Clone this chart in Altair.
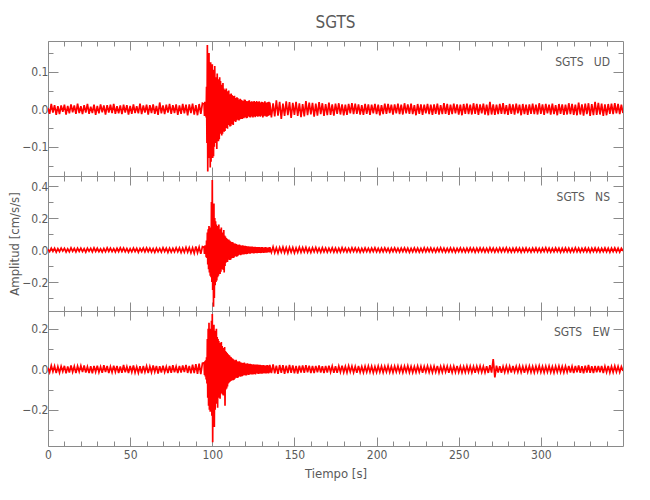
import altair as alt
import pandas as pd

# ---- sample times (s): 1 s sampling outside the event, 0.25 s around it
TIME_PRE = list(range(0, 95))
TIME_EVT = [95 + i * 0.25 for i in range(160)]
TIME_POST = list(range(135, 351))
TIME = TIME_PRE + TIME_EVT + TIME_POST

# ---- amplitudes, in 1e-3 cm/s/s
UD_PRE = [3,-12,14,-9,11,-15,8,-13,10,-7,12,-14,9,-11,13,-8,10,-12,15,-10,
          8,-13,11,-9,14,-12,7,-10,12,-15,9,-11,13,-8,10,-14,11,-9,12,-10,
          14,-12,8,-11,10,-13,12,-9,11,-14,9,-12,13,-10,8,-11,15,-13,10,-9,
          12,-14,11,-10,13,-12,9,-15,18,-11,10,-13,12,-9,14,-12,11,-10,13,-15,
          10,-12,14,-11,12,-16,13,-10,15,-14,11,-16,14,-12,16]
UD_EVT = [14,-18,20,-15,17,-22,60,-90,
          171,-166,140,-120, 150,-130,110,-155, 125,-140,100,-110, 120,-130,105,-125,
          90,-100,115,-80, 85,-90,70,-106, 95,-75,80,-85, 70,-80,85,-65,
          75,-60,65,-70, 60,-65,70,-55, 55,-60,50,-58, 52,-45,55,-50,
          45,-52,48,-40, 50,-42,38,-46, 40,-45,42,-36, 38,-40,35,-42,
          34,-30,36,-32, 30,-34,28,-30, 32,-26,30,-28, 26,-30,24,-27,
          28,-22,25,-26, 24,-26,22,-20, 22,-24,26,-21, 25,-20,22,-24,
          20,-23,21,-19, 22,-18,24,-21, 19,-22,20,-18, 21,-19,18,-22,
          20,-17,22,-19, 18,-21,19,-16, 22,-18,17,-20, 19,-16,21,-18,
          17,-20,18,-15, 20,-17,19,-22, 16,-19,18,-17, 21,-16,17,-19,
          18,-20,16,-18, 19,-17,20,-16]
UD_POST = [18,-22,16,-19,24,-17,20,-26,15,-18,21,-16,19,-23,17,-15,20,-18,16,-21,
           14,-19,22,-16,18,-14,17,-20,15,-17,19,-13,16,-18,14,-16,18,-15,13,-17,
           15,-12,16,-14,13,-16,12,-15,14,-11,16,-13,15,-12,13,-14,11,-15,14,-12,
           13,-15,12,-11,14,-13,12,-16,11,-13,15,-12,14,-10,12,-14,13,-11,15,-13,
           12,-14,16,-11,13,-12,15,-13,11,-16,14,-12,13,-15,12,-11,14,-13,12,-15,
           13,-12,15,-14,11,-13,16,-12,14,-15,12,-13,15,-11,13,-14,12,-16,14,-12,
           15,-13,12,-14,16,-12,14,-15,13,-11,15,-14,12,-16,20,-14,13,-15,12,-13,
           14,-12,16,-13,11,-15,14,-12,13,-14,15,-11,12,-16,14,-13,12,-15,13,-12,
           15,-13,12,-14,16,-12,13,-15,14,-11,12,-14,15,-13,11,-16,14,-12,13,-15,
           12,-14,16,-13,14,-15,12,-16,18,-14,13,-17,15,-13,16,-18,14,-16,20,-15,
           17,-14,15,-18,13,-16,14,-12,15,-13,16,-11,14,-13,12,-10]

NS_PRE = [5,-10,12,-8,11,-13,9,-10,12,-7,10,-12,8,-11,13,-9,10,-12,11,-8,
          12,-10,9,-13,11,-8,10,-12,13,-9,11,-10,8,-12,10,-11,13,-9,12,-10,
          9,-12,11,-10,14,-9,12,-11,10,-13,9,-11,12,-10,11,-14,10,-9,12,-11,
          13,-10,11,-12,9,-14,12,-11,10,-13,14,-10,12,-15,11,-13,10,-12,14,-11,
          13,-16,12,-14,17,-13,15,-18,14,-20,22,-17,19,-24,21]
NS_EVT = [18,-25,28,-22,30,-45,60,-50,
          110,-90,130,-120, 150,-140,120,-160, 140,-170,300,-200, 437,-250,260,-354,
          290,-300,200,-220, 180,-200,160,-190, 150,-170,140,-160, 160,-140,130,-150,
          120,-135,140,-110, 110,-120,100,-125, 125,-140,90,-100, 85,-80,75,-70,
          70,-75,65,-60, 65,-55,60,-62, 55,-60,50,-52, 50,-45,48,-50,
          42,-46,40,-38, 40,-36,38,-42, 35,-38,32,-34, 32,-30,34,-28,
          30,-32,27,-29, 28,-25,30,-27, 26,-28,24,-25, 27,-23,25,-26,
          22,-25,24,-21, 24,-20,22,-23, 21,-23,20,-19, 22,-19,21,-20,
          19,-21,18,-20, 20,-18,19,-17, 18,-20,17,-19, 19,-16,18,-18,
          17,-19,16,-18, 18,-16,19,-15, 16,-18,15,-17, 17,-15,18,-16,
          15,-17,16,-14, 16,-14,17,-15]
NS_POST = [18,-15,20,-17,14,-19,16,-13,18,-16,15,-19,17,-14,16,-18,13,-15,17,-14,
           15,-13,16,-14,12,-15,14,-12,16,-13,11,-14,15,-12,13,-14,12,-11,14,-13,
           12,-14,11,-13,15,-10,12,-13,11,-12,14,-10,13,-11,12,-14,10,-12,13,-11,
           11,-13,12,-10,14,-12,10,-13,12,-11,13,-10,11,-14,12,-10,13,-12,11,-13,
           12,-10,13,-12,11,-14,10,-12,13,-11,12,-13,10,-12,14,-11,12,-10,13,-12,
           11,-13,12,-10,14,-11,12,-13,10,-12,13,-11,12,-14,11,-10,13,-12,11,-13,
           12,-11,13,-10,12,-14,11,-12,13,-10,12,-13,11,-12,14,-10,12,-13,11,-12,
           13,-11,12,-10,14,-12,11,-13,12,-11,13,-10,12,-14,11,-12,13,-11,10,-13,
           12,-10,13,-12,11,-13,12,-10,14,-11,12,-13,11,-12,13,-10,12,-14,11,-12,
           13,-11,12,-13,10,-12,14,-11,12,-13,11,-10,13,-12,11,-14,12,-10,13,-11,
           12,-13,11,-10,13,-12,11,-14,12,-10,13,-11,12,-13,11,-6]

EW_PRE = [8,-15,18,-12,16,-19,13,-17,15,-11,17,-20,14,-16,19,-13,15,-18,16,-12,
          17,-14,19,-16,13,-18,15,-20,16,-13,18,-15,12,-17,20,-14,16,-19,13,-15,
          18,-13,16,-19,14,-17,21,-15,13,-18,16,-14,19,-16,12,-18,15,-20,17,-13,
          16,-18,14,-15,19,-13,17,-21,15,-16,18,-14,13,-19,16,-17,20,-15,14,-18,
          17,-16,19,-14,21,-18,16,-20,23,-19,25,-22,28,-24,30]
EW_EVT = [32,-28,40,-35,45,-50,60,-70,
          150,-140,200,-180, 230,-200,180,-210, 200,-190,240,-230, 273,-360,210,-250,
          220,-285,190,-200, 180,-170,200,-160, 160,-190,150,-140, 140,-130,120,-145,
          130,-120,135,-110, 115,-125,100,-130, 105,-95,110,-180, 90,-100,85,-95,
          80,-85,75,-70, 70,-65,68,-62, 62,-58,60,-55, 55,-50,52,-54,
          48,-52,45,-47, 45,-42,47,-40, 40,-43,38,-41, 38,-35,40,-36,
          35,-37,33,-34, 32,-34,30,-31, 31,-29,33,-28, 29,-31,27,-30,
          28,-26,30,-27, 26,-28,25,-24, 27,-24,26,-25, 24,-26,23,-25,
          25,-22,24,-23, 23,-25,22,-21, 24,-21,23,-22, 21,-23,22,-20,
          22,-20,21,-22, 20,-22,19,-21, 21,-19,20,-18, 19,-21,18,-20,
          20,-18,21,-19, 18,-20,19,-17]
EW_POST = [22,-19,24,-20,18,-23,21,-17,20,-22,18,-19,21,-17,19,-20,17,-21,18,-16,
           19,-17,20,-15,18,-19,16,-18,17,-15,19,-16,15,-18,17,-16,18,-14,16,-17,
           15,-17,16,-14,18,-15,14,-16,17,-13,15,-16,14,-17,16,-15,13,-16,15,-14,
           16,-14,15,-17,13,-15,16,-14,15,-16,14,-13,17,-15,14,-16,15,-13,16,-14,
           14,-16,15,-13,17,-15,14,-16,13,-15,16,-14,15,-17,14,-13,16,-15,14,-16,
           15,-14,17,-16,14,-15,16,-13,15,-17,14,-16,15,-14,17,-15,14,-16,13,-15,
           16,-14,15,-16,14,-17,15,-13,16,-15,14,-16,15,-18,20,-16,50,-40,18,-16,
           15,-17,14,-15,16,-14,15,-16,17,-13,15,-14,16,-15,14,-17,15,-14,16,-15,
           14,-16,15,-13,17,-15,14,-16,15,-14,16,-15,13,-17,15,-14,16,-15,14,-16,
           15,-14,17,-16,14,-18,16,-15,19,-17,15,-20,18,-16,21,-17,15,-18,16,-15,
           17,-15,16,-18,15,-14,17,-16,14,-15,16,-13,15,-14,13,-8]

COMPONENTS = ["UD", "NS", "EW"]
STATION = "SGTS"
Y_DOMAINS = [[-0.178, 0.182], [-0.381, 0.4625], [-0.379, 0.288]]
Y_MAJOR = [[-0.1, 0.0, 0.1], [-0.2, 0.0, 0.2, 0.4], [-0.2, 0.0, 0.2]]
Y_MINOR = [[-0.15, -0.05, 0.05, 0.15], [-0.3, -0.1, 0.1, 0.3], [-0.3, -0.1, 0.1]]
X_DOMAIN = [0, 350]
X_MAJOR = [0, 50, 100, 150, 200, 250, 300]
X_MINOR = [v for v in range(10, 350, 10) if v % 50]

SERIES = [(UD_PRE, UD_EVT, UD_POST), (NS_PRE, NS_EVT, NS_POST), (EW_PRE, EW_EVT, EW_POST)]

FONT = "Liberation Sans Narrow, DejaVu Sans Condensed, Liberation Sans, sans-serif"
GRAY = "#8a8a8a"
TXT = "#5a5a5a"
W, H = 575, 135


def frame(pre, evt, post):
    vals = pre + evt + post
    assert len(vals) == len(TIME), (len(vals), len(TIME))
    return pd.DataFrame({"t": TIME, "a": [v / 1000 for v in vals]})


def axis(orient, values, size, labels=False, title=None, fmt=None):
    is_x = orient in ("top", "bottom")
    kw = dict(orient=orient, values=values, tickSize=size, offset=-size,
              domain=False, grid=False, labels=labels, title=title,
              tickColor=GRAY, tickWidth=1, labelFlush=False, labelOverlap=False,
              labelFont=FONT, labelFontSize=12, labelColor=TXT,
              labelPadding=3 if is_x else 0,
              titleFont=FONT, titleFontSize=13, titleColor=TXT,
              titleFontWeight="normal", titlePadding=7 if is_x else 0)
    if fmt:
        kw["format"] = fmt
    return alt.Axis(**kw)


def panel(i):
    df = frame(*SERIES[i])
    xs = alt.Scale(domain=X_DOMAIN, nice=False, zero=False)
    ys = alt.Scale(domain=Y_DOMAINS[i], nice=False, zero=False)
    bottom = i == 2
    xt = "Tiempo [s]" if bottom else None
    yt = "Amplitud [cm/s/s]" if i == 1 else None

    trace = alt.Chart(df).mark_line(color="#ff0000", strokeWidth=1.7, clip=True).encode(
        x=alt.X("t:Q", scale=xs, axis=axis("bottom", X_MAJOR, 9, labels=bottom, title=xt)),
        y=alt.Y("a:Q", scale=ys, axis=axis("left", Y_MAJOR[i], 10, labels=True, title=yt, fmt=".1f")),
    )
    small = df.iloc[:2]
    l2 = alt.Chart(small).mark_point(opacity=0).encode(
        x=alt.X("t:Q", scale=xs, axis=axis("bottom", X_MINOR, 5)),
        y=alt.Y("a:Q", scale=ys, axis=axis("left", Y_MINOR[i], 5)),
    )
    l3 = alt.Chart(small).mark_point(opacity=0).encode(
        x=alt.X("t:Q", scale=xs, axis=axis("top", X_MAJOR, 9)),
        y=alt.Y("a:Q", scale=ys, axis=axis("right", Y_MAJOR[i], 10)),
    )
    l4 = alt.Chart(small).mark_point(opacity=0).encode(
        x=alt.X("t:Q", scale=xs, axis=axis("top", X_MINOR, 5)),
        y=alt.Y("a:Q", scale=ys, axis=axis("right", Y_MINOR[i], 5)),
    )
    lab = alt.Chart(pd.DataFrame({"lbl": [STATION + "\u00a0\u00a0\u00a0" + COMPONENTS[i]]})).mark_text(
        align="right", baseline="middle", font=FONT, fontSize=12, color=TXT
    ).encode(x=alt.value(562), y=alt.value(21), text="lbl:N")

    layer = alt.layer(trace, l2, l3, l4, lab).resolve_scale(x="independent", y="independent")
    props = dict(width=W, height=H)
    if i == 0:
        props["title"] = alt.TitleParams(STATION, anchor="middle", frame="group", fontSize=17,
                                         fontWeight="normal", color=TXT, font=FONT, offset=9)
    return layer.properties(**props)


chart = alt.vconcat(panel(0), panel(1), panel(2), spacing=0, bounds="flush").properties(
    padding={"left": 0, "top": 5, "right": 5, "bottom": 5}
).configure_view(stroke=GRAY, strokeWidth=1)

chart.save("out.html", embed_options={"renderer": "svg", "actions": False})
